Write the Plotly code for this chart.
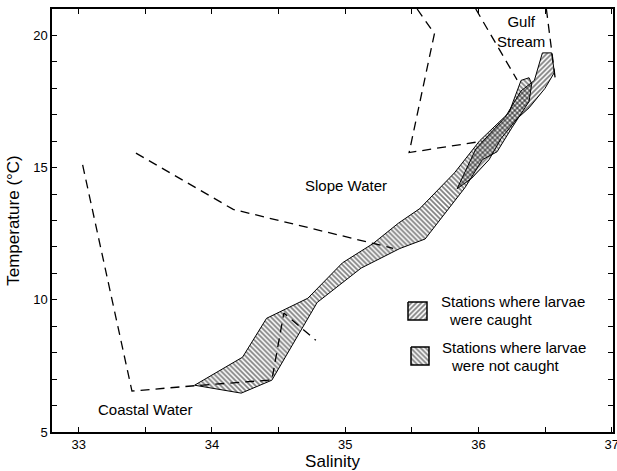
import plotly.graph_objects as go

# ---- data (salinity, temperature °C) ----
coastal_sal = [33.03, 33.40, 33.87, 34.45, 34.54, 34.78]
coastal_temp = [15.1, 6.55, 6.75, 6.97, 9.5, 8.47]

slope_low_sal = [33.43, 34.16, 35.36]
slope_low_temp = [15.55, 13.42, 11.95]

slope_high_sal = [35.54, 35.67, 35.48, 36.03]
slope_high_temp = [21.0, 20.07, 15.57, 16.0]

gulf_left_sal = [35.98, 36.29]
gulf_left_temp = [21.0, 18.32]

gulf_right_sal = [36.51, 36.58]
gulf_right_temp = [21.0, 18.22]

not_caught_sal = [33.87, 34.23, 34.41, 34.53, 34.72, 34.98, 35.21, 35.40, 35.56, 35.82,
                  36.01, 36.23, 36.32, 36.38, 36.40, 36.38, 36.25, 36.14, 36.03, 35.90,
                  35.60, 35.41, 35.12, 34.79, 34.67, 34.45, 34.22, 33.87]
not_caught_temp = [6.77, 7.83, 9.3, 9.6, 10.06, 11.4, 12.13, 12.9, 13.45, 14.8,
                   16.02, 17.08, 18.3, 18.4, 18.17, 17.5, 16.5, 15.6, 15.3, 14.25,
                   12.3, 11.94, 11.2, 9.9, 8.85, 6.96, 6.47, 6.77]

caught_sal = [35.84, 35.98, 36.20, 36.32, 36.42, 36.48, 36.55, 36.57, 36.50, 36.38,
              36.29, 36.17, 36.08, 35.95, 35.84]
caught_temp = [14.2, 15.7, 16.9, 17.9, 18.3, 19.34, 19.34, 18.6, 18.0, 17.26,
               16.85, 16.1, 15.3, 14.6, 14.2]

x_tickvals = [33, 33.5, 34, 34.5, 35, 35.5, 36, 36.5, 37]
x_ticktext = ["33", "", "34", "", "35", "", "36", "", "37"]
y_tickvals = list(range(5, 21))
y_ticktext = [str(v) if v % 5 == 0 else "" for v in y_tickvals]

legend_names = ["Stations where larvae<br>\u00a0\u00a0were caught",
                "Stations where larvae<br>\u00a0\u00a0were not caught"]

FONT = "Liberation Sans, Arial, sans-serif"
HATCH_CAUGHT = dict(shape="/", fgcolor="black", bgcolor="rgba(0,0,0,0)", size=3.5, solidity=0.5)
HATCH_NOT = dict(shape="\\", fgcolor="black", bgcolor="rgba(0,0,0,0)", size=3.5, solidity=0.5)

fig = go.Figure()

fig.add_trace(go.Scatter(
    x=caught_sal, y=caught_temp, mode="lines", fill="toself",
    line=dict(color="black", width=1), fillcolor="rgba(0,0,0,0)",
    fillpattern=HATCH_CAUGHT, name=legend_names[0], showlegend=False,
))
fig.add_trace(go.Scatter(
    x=not_caught_sal, y=not_caught_temp, mode="lines", fill="toself",
    line=dict(color="black", width=1), fillcolor="rgba(0,0,0,0)",
    fillpattern=HATCH_NOT, name=legend_names[1], showlegend=False,
))

for xs, ys in [(coastal_sal, coastal_temp), (slope_low_sal, slope_low_temp),
               (slope_high_sal, slope_high_temp), (gulf_left_sal, gulf_left_temp),
               (gulf_right_sal, gulf_right_temp)]:
    fig.add_trace(go.Scatter(x=xs, y=ys, mode="lines", showlegend=False,
                             line=dict(color="black", width=1.3, dash="9px,6px"),
                             hoverinfo="skip"))

labels = [("Slope Water", 35.01, 14.33), ("Coastal Water", 33.50, 5.87),
          ("Gulf<br>Stream", 36.32, 20.15)]
for txt, lx, ly in labels:
    fig.add_annotation(x=lx, y=ly, text=txt, showarrow=False,
                       font=dict(family=FONT, size=15, color="black"))

# ---- legend key drawn on an overlay axis (pixel-like frame of the plot area) ----
key_boxes = [((408, 427), (302, 320), HATCH_CAUGHT), ((411, 429), (347, 365), HATCH_NOT)]
for (x0, x1), (y0, y1), patt in key_boxes:
    fig.add_trace(go.Scatter(
        x=[x0, x1, x1, x0, x0], y=[y0, y0, y1, y1, y0], xaxis="x2", yaxis="y2",
        mode="lines", fill="toself", line=dict(color="black", width=1.5),
        fillcolor="rgba(0,0,0,0)", fillpattern=patt, showlegend=False, hoverinfo="skip"))
key_texts = [(439, 301, "Stations where larvae"), (447, 319, "were caught"),
             (440, 347, "Stations where larvae"), (449, 365, "were not caught")]
for tx, ty, t in key_texts:
    fig.add_annotation(x=tx, y=ty, xref="x2", yref="y2", text=t, showarrow=False,
                       xanchor="left", yanchor="middle",
                       font=dict(family=FONT, size=15, color="black"))

axis_common = dict(showline=True, linecolor="black", linewidth=1.5, mirror="ticks",
                   ticks="inside", ticklen=5, tickwidth=1.2, tickcolor="black",
                   showgrid=False, zeroline=False, automargin=False,
                   ticklabeloverflow="allow",
                   tickfont=dict(family=FONT, size=13, color="black"),
                   title_font=dict(family=FONT, size=17, color="black"))

fig.update_xaxes(range=[32.8, 37.01], tickvals=x_tickvals, ticktext=x_ticktext,
                 title_text="Salinity", title_standoff=4, **axis_common)
fig.update_yaxes(range=[5, 21], tickvals=y_tickvals, ticktext=y_ticktext,
                 title_text="Temperature (°C)", title_standoff=9, **axis_common)

fig.update_layout(
    width=617, height=471,
    margin=dict(l=52, r=4, t=9, b=39),
    paper_bgcolor="white", plot_bgcolor="white",
    showlegend=False,
    xaxis2=dict(overlaying="x", range=[52, 613], visible=False, fixedrange=True),
    yaxis2=dict(overlaying="y", range=[432, 9], visible=False, fixedrange=True),
)

fig.write_html("out.html", config={"displayModeBar": False},
               post_script="document.body.style.margin='0';")
